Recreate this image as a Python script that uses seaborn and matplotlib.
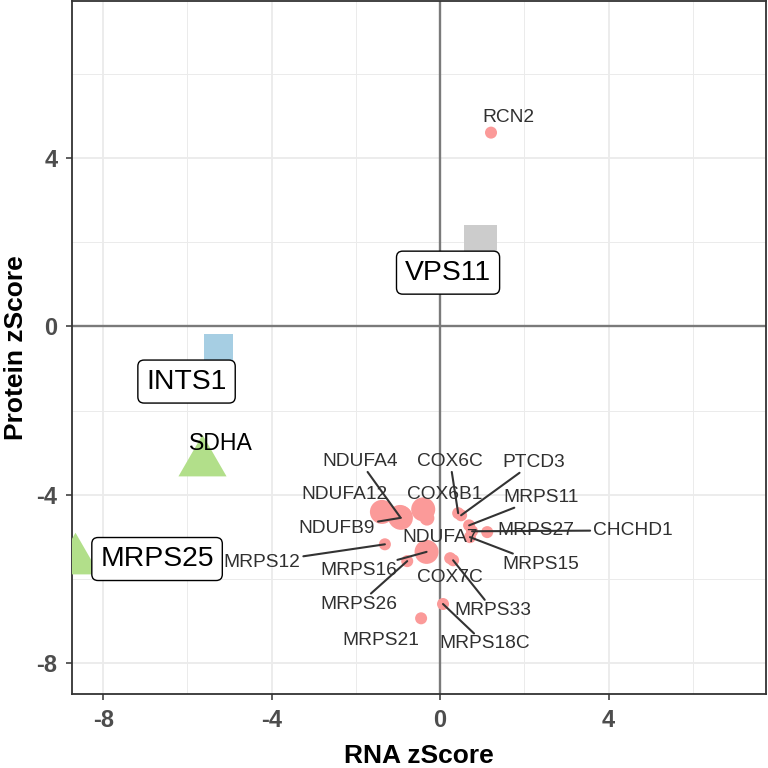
import numpy as np
import pandas as pd
import matplotlib
matplotlib.use("Agg")
import matplotlib.pyplot as plt
import seaborn as sns
from matplotlib.path import Path

# proteins measured in both datasets (circles)
genes = ["RCN2", "NDUFA12", "NDUFA4", "NDUFB9", "COX6B1", "NDUFA7", "COX6C", "PTCD3",
         "MRPS11", "CHCHD1", "MRPS27", "MRPS15", "MRPS12", "MRPS16", "MRPS26",
         "COX7C", "MRPS33", "MRPS18C", "MRPS21"]
rna_z = [1.21, -1.38, -0.95, -0.93, -0.40, -0.31, 0.43, 0.50,
         0.69, 0.76, 1.12, 0.71, -1.31, -0.32, -0.78,
         0.24, 0.31, 0.07, -0.45]
protein_z = [4.61, -4.41, -4.53, -4.55, -4.35, -4.56, -4.44, -4.49,
             -4.73, -4.87, -4.89, -5.01, -5.18, -5.36, -5.58,
             -5.51, -5.56, -6.60, -6.94]
n_hits = [1, 4, 4, 4, 4, 1.5, 1, 1,
          1, 1, 1, 1, 1, 4, 1,
          1, 1, 1, 1]

# screen hits (squares)
hit_genes = ["VPS11", "INTS1"]
hit_rna = [0.96, -5.26]
hit_protein = [2.03, -0.53]
hit_n = [4, 3]

# knockdown targets (triangles)
target_genes = ["SDHA", "MRPS25"]
target_rna = [-5.65, -8.67]
target_protein = [-3.22, -5.55]

# label placement (data units) and whether a leader line is drawn
label_pos = {
    "RCN2": (1.63, 4.98, False), "NDUFA4": (-1.90, -3.21, True),
    "NDUFA12": (-2.26, -3.99, False), "NDUFB9": (-2.45, -4.80, True),
    "COX6B1": (0.10, -3.99, False), "NDUFA7": (0.0, -5.01, False),
    "COX6C": (0.24, -3.21, True), "PTCD3": (2.23, -3.23, True),
    "MRPS11": (2.40, -4.06, True), "CHCHD1": (4.58, -4.85, True),
    "MRPS27": (2.28, -4.85, False), "MRPS15": (2.38, -5.65, True),
    "MRPS12": (-4.23, -5.61, True), "MRPS16": (-1.92, -5.80, True),
    "MRPS26": (-1.92, -6.60, True), "COX7C": (0.24, -5.96, False),
    "MRPS33": (1.26, -6.75, True), "MRPS18C": (1.07, -7.55, True),
    "MRPS21": (-1.40, -7.46, False),
}
box_pos = {"VPS11": (0.19, 1.28), "INTS1": (-6.02, -1.31), "MRPS25": (-6.72, -5.53)}
plain_pos = {"SDHA": (-5.21, -2.79)}

circles = pd.DataFrame({"gene": genes, "rna": rna_z, "protein": protein_z, "n": n_hits})
squares = pd.DataFrame({"gene": hit_genes, "rna": hit_rna, "protein": hit_protein, "n": hit_n})
triangles = pd.DataFrame({"gene": target_genes, "rna": target_rna, "protein": target_protein})

sns.set_style("white")
plt.rcParams["font.family"] = ["Liberation Sans", "DejaVu Sans"]
plt.rcParams["axes.unicode_minus"] = False

fig = plt.figure(figsize=(7.68, 7.68), dpi=100)
ax = fig.add_axes([72 / 768, 74 / 768, 694 / 768, 693 / 768])

lim = (-8.74, 7.74)
ax.set_xlim(lim)
ax.set_ylim(lim)

ax.axhline(0, color="#7a7a7a", lw=1.7, zorder=1)
ax.axvline(0, color="#7a7a7a", lw=1.7, zorder=1)

sns.scatterplot(data=circles, x="rna", y="protein", size="n", sizes=(75, 300),
                color="#fb9a99", linewidth=0, legend=False, ax=ax, zorder=3)
sns.scatterplot(data=squares, x="rna", y="protein", hue="gene", size="n",
                sizes=(430, 570), palette={"VPS11": "#cccccc", "INTS1": "#a6cee3"},
                marker="s", linewidth=0, legend=False, ax=ax, zorder=3)
tri = Path([(-1, -0.5774), (1, -0.5774), (0, 1.1547), (-1, -0.5774)])
sns.scatterplot(data=triangles, x="rna", y="protein", marker=tri, s=1600,
                color="#b2df8a", linewidth=0, legend=False, ax=ax, zorder=3)

texts = {}
for g in genes:
    lx, ly, _ = label_pos[g]
    texts[g] = ax.text(lx, ly, g, ha="center", va="center", fontsize=13.8,
                       color="#303030", zorder=5)
for g, (lx, ly) in box_pos.items():
    ax.text(lx, ly, g, ha="center", va="center", fontsize=20.4, color="black", zorder=6,
            bbox=dict(boxstyle="round,pad=0.3,rounding_size=0.22", fc="white",
                      ec="black", lw=1.0))
for g, (lx, ly) in plain_pos.items():
    ax.text(lx, ly, g, ha="center", va="center", fontsize=16.6, color="black", zorder=6)

# leader lines from label box edge to point
fig.canvas.draw()
renderer = fig.canvas.get_renderer()
inv = ax.transData.inverted()
for g, x, y in zip(genes, rna_z, protein_z):
    if not label_pos[g][2]:
        continue
    bb = texts[g].get_window_extent(renderer)
    cx, cy = (bb.x0 + bb.x1) / 2, (bb.y0 + bb.y1) / 2
    hw, hh = bb.width / 2 + 3, bb.height / 2 + 2
    px, py = ax.transData.transform((x, y))
    dx, dy = px - cx, py - cy
    tx = hw / abs(dx) if dx != 0 else np.inf
    ty = hh / abs(dy) if dy != 0 else np.inf
    t = min(tx, ty)
    if t >= 1:
        continue
    sx, sy = inv.transform((cx + t * dx, cy + t * dy))
    ax.plot([sx, x], [sy, y], color="#333333", lw=1.5, zorder=4)

ax.set_xticks([-8, -4, 0, 4])
ax.set_yticks([-8, -4, 0, 4])
ax.set_xticks([-6, -2, 2, 6], minor=True)
ax.set_yticks([-6, -2, 2, 6], minor=True)
ax.grid(which="major", color="#ebebeb", lw=1.3)
ax.grid(which="minor", color="#ebebeb", lw=0.7)
ax.set_axisbelow(True)
ax.tick_params(which="major", direction="out", length=4.5, width=1.1, color="#333333",
               labelsize=17, labelcolor="#4d4d4d", pad=6, bottom=True, left=True)
ax.tick_params(which="minor", length=0)
for lbl in ax.get_xticklabels() + ax.get_yticklabels():
    lbl.set_fontweight("bold")
for sp in ax.spines.values():
    sp.set_color("#333333")
    sp.set_linewidth(1.3)

ax.set_xlabel("RNA zScore", fontsize=19, fontweight="bold", color="black", labelpad=9)
ax.set_ylabel("Protein zScore", fontsize=19, fontweight="bold", color="black", labelpad=6)

fig.savefig("out.png", dpi=100)
